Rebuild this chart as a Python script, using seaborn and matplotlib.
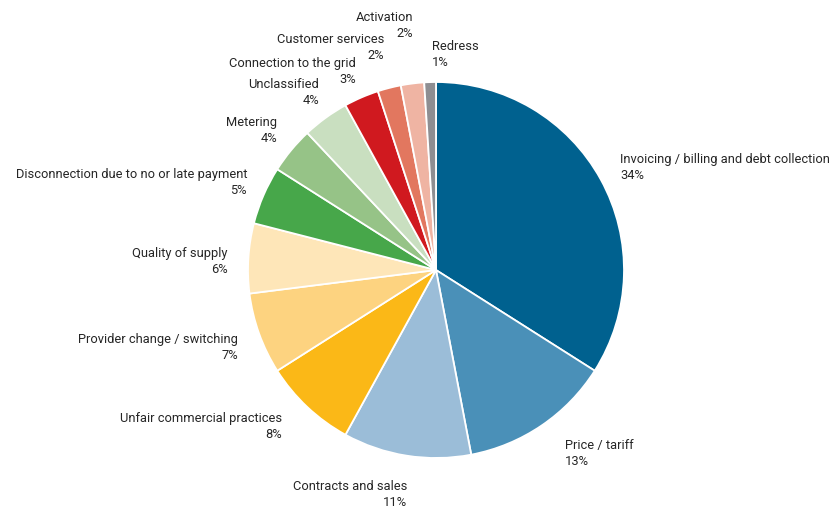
import matplotlib
matplotlib.use("Agg")
import matplotlib.pyplot as plt
import seaborn as sns
from matplotlib import font_manager

categories = ["Invoicing / billing and debt collection", "Price / tariff", "Contracts and sales",
              "Unfair commercial practices", "Provider change / switching", "Quality of supply",
              "Disconnection due to no or late payment", "Metering", "Unclassified",
              "Connection to the grid", "Customer services", "Activation", "Redress"]
shares = [34, 13, 11, 8, 7, 6, 5, 4, 4, 3, 2, 2, 1]
colors = ["#00618F", "#4A90B8", "#9BBDD8", "#FBB817", "#FDD380", "#FEE6B8", "#47A74A",
          "#96C387", "#C9DFC0", "#D0191F", "#E2775F", "#EFB4A3", "#8E8E92"]

# label layout (pixel coords from top-left: anchor x, baseline y of name line, alignment)
label_pos = [(620, 163, "left"), (565, 449, "left"), (407, 490, "right"), (282, 422, "right"),
             (238, 343, "right"), (228, 257, "right"), (247, 178, "right"), (277, 126, "right"),
             (319, 88, "right"), (356, 67, "right"), (384, 43, "right"), (413, 21, "right"),
             (432, 50, "left")]
line_gap = 16

sns.set_theme(style="white")
names = {f.name for f in font_manager.fontManager.ttflist}
fam = "Liberation Sans"
for cand in ["Liberation Sans Narrow", "DejaVu Sans Condensed", "Roboto", "Liberation Sans"]:
    if cand in names:
        fam = cand
        break
plt.rcParams["font.family"] = [fam, "DejaVu Sans"]

W, H = 832, 508
fig = plt.figure(figsize=(W / 100, H / 100), dpi=100)
ax = fig.add_axes([0, 0, 1, 1])
ax.pie(shares, colors=colors, startangle=90, counterclock=False,
       center=(436, H - 270), radius=188,
       wedgeprops=dict(edgecolor="white", linewidth=1.3))
ax.set_xlim(0, W)
ax.set_ylim(0, H)
ax.set_aspect("auto")
ax.axis("off")

# fit font size so the longest right-hand label matches the reference width (~210 px)
probe = ax.text(0, 0, categories[0], fontsize=10)
fig.canvas.draw()
wpx = probe.get_window_extent(fig.canvas.get_renderer()).width
probe.remove()
fs = min(11, 10 * 210 / wpx)

for name, val, (x, y, ha) in zip(categories, shares, label_pos):
    ax.text(x, H - y, name, ha=ha, va="baseline", fontsize=fs, color="#262626")
    ax.text(x, H - y - line_gap, f"{val}%", ha=ha, va="baseline", fontsize=fs, color="#262626")

fig.savefig("out.png", dpi=100, facecolor="white")
